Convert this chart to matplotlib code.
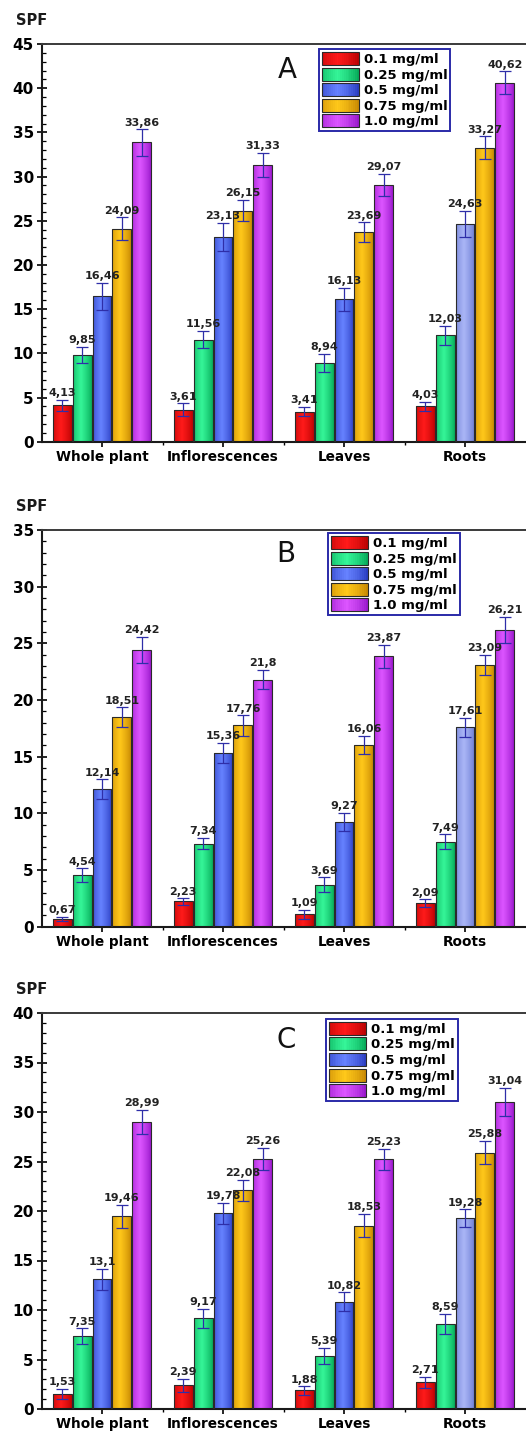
import numpy as np
import matplotlib
matplotlib.use("Agg")
import matplotlib.pyplot as plt
from matplotlib.legend_handler import HandlerBase
from matplotlib.patches import Rectangle
from matplotlib.colors import to_rgb
from matplotlib.ticker import MultipleLocator, FixedLocator

plt.rcParams['font.family'] = ['DejaVu Sans']

categories = ["Whole plant", "Inflorescences", "Leaves", "Roots"]
concentrations = ["0.1 mg/ml", "0.25 mg/ml", "0.5 mg/ml", "0.75 mg/ml", "1.0 mg/ml"]
panel_letters = ["A", "B", "C"]
y_max = [45, 35, 40]

# rows: concentration, columns: category
spf_A = [[4.13, 3.61, 3.41, 4.03],
         [9.85, 11.56, 8.94, 12.03],
         [16.46, 23.13, 16.13, 24.63],
         [24.09, 26.15, 23.69, 33.27],
         [33.86, 31.33, 29.07, 40.62]]
err_A = [[0.60, 0.74, 0.55, 0.50],
         [0.90, 0.98, 1.00, 1.07],
         [1.55, 1.60, 1.30, 1.50],
         [1.30, 1.20, 1.15, 1.27],
         [1.50, 1.35, 1.25, 1.30]]
spf_B = [[0.67, 2.23, 1.09, 2.09],
         [4.54, 7.34, 3.69, 7.49],
         [12.14, 15.36, 9.27, 17.61],
         [18.51, 17.76, 16.06, 23.09],
         [24.42, 21.8, 23.87, 26.21]]
err_B = [[0.20, 0.28, 0.38, 0.33],
         [0.60, 0.52, 0.67, 0.66],
         [0.87, 0.88, 0.79, 0.84],
         [0.85, 0.90, 0.80, 0.89],
         [1.18, 0.85, 1.02, 1.15]]
spf_C = [[1.53, 2.39, 1.88, 2.71],
         [7.35, 9.17, 5.39, 8.59],
         [13.1, 19.78, 10.82, 19.28],
         [19.46, 22.08, 18.53, 25.88],
         [28.99, 25.26, 25.23, 31.04]]
err_C = [[0.52, 0.66, 0.42, 0.54],
         [0.80, 0.97, 0.80, 1.00],
         [1.05, 1.06, 0.97, 0.89],
         [1.18, 1.09, 1.20, 1.18],
         [1.21, 1.12, 1.08, 1.42]]

panels = [(spf_A, err_A), (spf_B, err_B), (spf_C, err_C)]

# (edge colour, centre colour) for gradient look
grad_colors = [("#b00000", "#ff1a1a"),
               ("#00a050", "#35f598"),
               ("#2233b8", "#6682ff"),
               ("#c08000", "#ffc81a"),
               ("#9010c4", "#dc55ff")]
light_blue = ("#5f6fcc", "#aab6f6")   # Roots 0.5 mg/ml bar looks lighter


def make_grad(ec, cc, n=64):
    e = np.array(to_rgb(ec)); c = np.array(to_rgb(cc))
    t = np.linspace(0, 1, n)
    w = np.clip(1 - np.abs(t - 0.42) / 0.62, 0, 1) ** 0.7
    return (e[None, :] + (c - e)[None, :] * w[:, None])[None, :, :]


class GradHandler(HandlerBase):
    def __init__(self, cols):
        super().__init__()
        self.cols = cols

    def create_artists(self, legend, orig_handle, xdescent, ydescent,
                       width, height, fontsize, trans):
        g = make_grad(*self.cols, n=20)[0]
        arts = []
        n = len(g)
        for i in range(n):
            r = Rectangle((-xdescent + i * width / n, -ydescent), width / n + 0.3, height,
                          facecolor=g[i], edgecolor='none', transform=trans)
            arts.append(r)
        arts.append(Rectangle((-xdescent, -ydescent), width, height, fill=False,
                              edgecolor='#2a2a2a', linewidth=0.8, transform=trans))
        return arts


W, H = 526, 1433
fig = plt.figure(figsize=(W / 100, H / 100), dpi=100)

ax_px = [(44.0, 441.7), (530.0, 926.7), (1013.0, 1409.0)]
leg_anchor = [(0.573, 0.987), (0.592, 0.992), (0.588, 0.985)]
letter_pos = [(0.507, 0.935), (0.505, 0.94), (0.505, 0.932)]

x = np.arange(len(categories))
pitch = 0.165
bw = 0.157

for p, ((vals, errs), (ytop, ybot)) in enumerate(zip(panels, ax_px)):
    ax = fig.add_axes([41.5 / W, (H - ybot) / H, 484 / W, (ybot - ytop) / H])
    proxies = []
    handler_map = {}
    for k in range(len(concentrations)):
        xs = x + (k - 2) * pitch
        v = np.array(vals[k]); e = np.array(errs[k])
        bars = ax.bar(xs, v, width=bw, color=grad_colors[k][1], edgecolor='none', zorder=2)
        for j, rect in enumerate(bars):
            cols = light_blue if (k == 2 and j == 3) else grad_colors[k]
            im = ax.imshow(make_grad(*cols),
                           extent=[rect.get_x(), rect.get_x() + rect.get_width(), 0, rect.get_height()],
                           aspect='auto', zorder=2.2, interpolation='bilinear')
            im.set_clip_path(rect)
        ax.bar(xs, v, width=bw, fill=False, edgecolor='#2a2a2a', linewidth=0.8, zorder=3)
        ax.errorbar(xs, v, yerr=e, fmt='none', ecolor='#2e2ea8', elinewidth=0.9,
                    capsize=4.3, capthick=0.9, zorder=4)
        for xi, vi, ei in zip(xs, v, e):
            ax.annotate(f"{vi:g}".replace('.', ','), xy=(xi, vi + ei), xytext=(0, 1.2),
                        textcoords='offset points', ha='center', va='bottom',
                        fontsize=8, fontweight='bold', color='#222222', zorder=5)
        proxy = Rectangle((0, 0), 1, 1)
        proxies.append(proxy)
        handler_map[proxy] = GradHandler(grad_colors[k])

    ax.set_xlim(-0.5, 3.5)
    ax.set_ylim(0, y_max[p])
    ax.set_yticks(np.arange(0, y_max[p] + 1, 5))
    ax.yaxis.set_minor_locator(MultipleLocator(1))
    ax.set_xticks(x)
    ax.set_xticklabels(categories, fontsize=9.8, fontweight='bold')
    ax.xaxis.set_minor_locator(FixedLocator([0.5, 1.5, 2.5]))
    ax.tick_params(axis='y', which='major', direction='inout', length=7, width=1.2,
                   labelsize=11, pad=2)
    ax.tick_params(axis='y', which='minor', direction='in', length=3, width=0.9)
    ax.tick_params(axis='x', which='major', direction='out', length=3.5, width=1.2, pad=2.5)
    ax.tick_params(axis='x', which='minor', direction='out', length=2.5, width=1.0)
    for lab in ax.get_yticklabels():
        lab.set_fontweight('bold')
    ax.spines['right'].set_visible(False)
    for s in ['left', 'bottom']:
        ax.spines[s].set_linewidth(1.5)
        ax.spines[s].set_color('#1a1a1a')
    ax.spines['top'].set_linewidth(1.4)
    ax.spines['top'].set_color('#3a3a3a')

    ax.annotate("SPF", xy=(0, 1), xycoords='axes fraction', xytext=(-18.7, 17.0),
                textcoords='offset points', ha='left', va='center',
                fontsize=10.5, fontweight='bold', color='#1a1a1a')
    ax.text(letter_pos[p][0], letter_pos[p][1], panel_letters[p], transform=ax.transAxes,
            ha='center', va='center', fontsize=20, color='#111111')

    leg = ax.legend(proxies, concentrations, handler_map=handler_map,
                    loc='upper left', bbox_to_anchor=leg_anchor[p], borderaxespad=0,
                    prop={'weight': 'bold', 'size': 9.5},
                    handlelength=2.8, handleheight=1.14, handletextpad=0.38,
                    labelspacing=0.12, borderpad=0.22, fancybox=False, framealpha=1,
                    edgecolor='#2a2aa8')
    leg.get_frame().set_linewidth(1.4)
    leg.set_zorder(6)

fig.savefig("out.png", dpi=100)
